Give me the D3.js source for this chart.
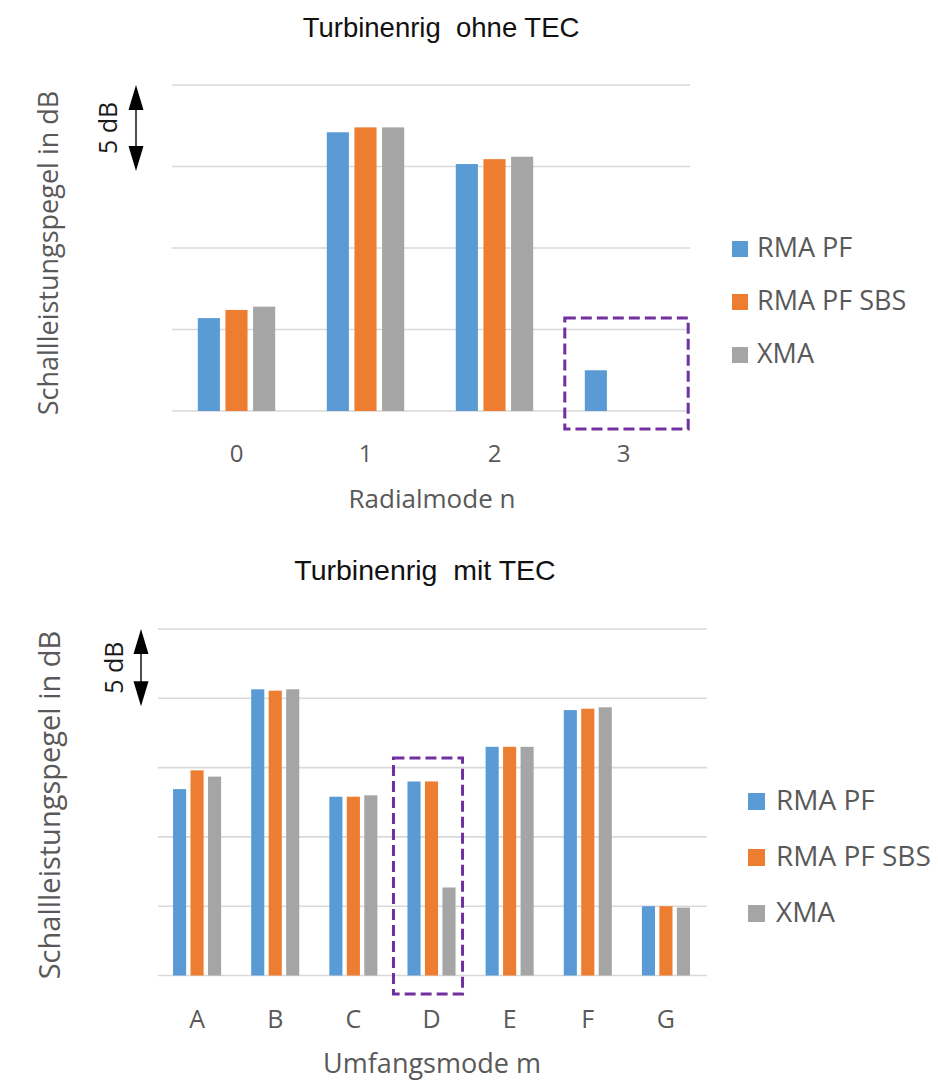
<!DOCTYPE html>
<html>
<head>
<meta charset="utf-8">
<script src="https://cdn.jsdelivr.net/npm/d3@7"></script>
<style>
  body { margin: 0; background: #fff; }
  svg { display: block; }
  text { white-space: pre; }
</style>
</head>
<body>
<svg id="chart" width="938" height="1082"></svg>
<script>
// Series shared by both panels
const seriesNames = ["RMA PF", "RMA PF SBS", "XMA"];
const seriesColors = ["#5B9BD5", "#ED7D31", "#A5A5A5"];

// Panel 1: turbine rig without TEC, by radial mode n (sound power level, dB, relative)
const radialModes = ["0", "1", "2", "3"];
const radialRmaPF = [5.7, 17.1, 15.15, 2.5];
const radialRmaPFSBS = [6.2, 17.4, 15.45, null];
const radialXMA = [6.4, 17.4, 15.6, null];
const radialGrid = [0, 5, 10, 15, 20];

// Panel 2: turbine rig with TEC, by circumferential mode m
const circModes = ["A", "B", "C", "D", "E", "F", "G"];
const circRmaPF = [13.45, 20.65, 12.9, 14.0, 16.5, 19.15, 5.0];
const circRmaPFSBS = [14.8, 20.55, 12.9, 14.0, 16.5, 19.25, 5.0];
const circXMA = [14.35, 20.65, 13.0, 6.35, 16.5, 19.35, 4.9];
const circGrid = [0, 5, 10, 15, 20, 25];

const svg = d3.select("#chart");
const textColor = "#595959";
const sansFont = "'Open Sans', 'Noto Sans', sans-serif";
const titleFont = "'Liberation Sans', Arial, sans-serif";

function drawPanel(p) {
  const g = svg.append("g");
  const x = d3.scaleBand().domain(p.categories).range(p.xRange)
    .paddingInner(p.padInner).paddingOuter(p.padInner / 2);
  const xs = d3.scaleBand().domain(seriesNames).range([0, x.bandwidth()]).paddingInner(p.barPad);
  const y = d3.scaleLinear().domain([0, d3.max(p.grid)]).range(p.yRange);

  // horizontal gridlines
  g.append("g").selectAll("line").data(p.grid).join("line")
    .attr("x1", p.xRange[0]).attr("x2", p.xRange[1] + 2)
    .attr("y1", d => y(d)).attr("y2", d => y(d))
    .attr("stroke", "#D9D9D9").attr("stroke-width", 1.6);

  // bars
  const rows = p.categories.map((c, i) => ({
    cat: c,
    vals: p.series.map((s, k) => ({ name: seriesNames[k], color: seriesColors[k], v: s[i] }))
  }));
  g.append("g").selectAll("g").data(rows).join("g")
    .attr("transform", d => `translate(${x(d.cat)},0)`)
    .selectAll("rect").data(d => d.vals.filter(v => v.v != null)).join("rect")
    .attr("x", d => xs(d.name)).attr("width", xs.bandwidth())
    .attr("y", d => y(d.v)).attr("height", d => y(0) - y(d.v))
    .attr("fill", d => d.color);

  // category labels
  const xAxis = d3.axisBottom(x).tickSize(0).tickPadding(0);
  const ax = g.append("g").attr("transform", `translate(0,${p.tickBaseline})`).call(xAxis);
  ax.select(".domain").remove();
  ax.selectAll("text").attr("dy", 0).attr("y", 0)
    .attr("font-family", sansFont).attr("font-size", p.tickSize).attr("fill", textColor);

  // axis title
  g.append("text").attr("x", p.xTitleX).attr("y", p.xTitleY).attr("text-anchor", "middle")
    .attr("font-family", sansFont).attr("font-size", p.xTitleSize).attr("fill", textColor)
    .text(p.xTitle);

  // chart title
  g.append("text").attr("x", p.titleX).attr("y", p.titleY).attr("text-anchor", "middle")
    .attr("font-family", titleFont).attr("font-size", p.titleSize).attr("fill", "#111")
    .text(p.title);

  // vertical axis title
  g.append("text").attr("transform", `translate(${p.yTitleX},${p.yTitleY}) rotate(-90)`)
    .attr("text-anchor", "middle").attr("dominant-baseline", "central")
    .attr("font-family", sansFont).attr("font-size", p.yTitleSize).attr("fill", textColor)
    .text("Schallleistungspegel in dB");

  // 5 dB scale arrow
  const top = d3.max(p.grid);
  const yA = y(top), yB = y(top - 5) + p.arrowExt;
  const hw = 7.5, hh = 25;
  g.append("line").attr("x1", p.arrowX).attr("x2", p.arrowX)
    .attr("y1", yA + hh - 2).attr("y2", yB - hh + 2)
    .attr("stroke", "#222").attr("stroke-width", 1.6);
  g.append("path").attr("fill", "#000")
    .attr("d", `M${p.arrowX},${yA} L${p.arrowX + hw},${yA + hh} L${p.arrowX - hw},${yA + hh} Z`);
  g.append("path").attr("fill", "#000")
    .attr("d", `M${p.arrowX},${yB} L${p.arrowX + hw},${yB - hh} L${p.arrowX - hw},${yB - hh} Z`);
  g.append("text").attr("transform", `translate(${p.dbX},${(yA + yB) / 2 + p.dbShift}) rotate(-90)`)
    .attr("text-anchor", "middle").attr("dominant-baseline", "central")
    .attr("font-family", sansFont).attr("font-size", p.dbSize).attr("fill", "#1a1a1a")
    .text("5 dB");

  // highlight box around the category of interest
  const hb = p.highlight;
  const hx0 = x(hb.cat) + hb.padLeft, hx1 = x(hb.cat) + x.bandwidth() + hb.padRight;
  g.append("rect").attr("x", hx0).attr("y", y(hb.top))
    .attr("width", hx1 - hx0).attr("height", y(hb.bottom) - y(hb.top))
    .attr("fill", "none").attr("stroke", "#7030A0").attr("stroke-width", 3)
    .attr("stroke-dasharray", "11,5");

  // legend
  const lg = g.append("g").selectAll("g").data(seriesNames).join("g")
    .attr("transform", (d, i) => `translate(${p.legendX},${p.legendY + i * p.legendStep})`);
  lg.append("rect").attr("x", 0).attr("y", -p.legendBox).attr("width", p.legendBox).attr("height", p.legendBox)
    .attr("fill", (d, i) => seriesColors[i]);
  lg.append("text").attr("x", p.legendTextDx).attr("y", 0)
    .attr("font-family", sansFont).attr("font-size", p.legendSize).attr("fill", textColor)
    .text(d => d);
}

drawPanel({
  categories: radialModes,
  series: [radialRmaPF, radialRmaPFSBS, radialXMA],
  grid: radialGrid,
  xRange: [172, 688], yRange: [411, 85],
  padInner: 0.4, barPad: 0.2,
  tickBaseline: 462, tickSize: 24,
  xTitle: "Radialmode n", xTitleX: 432, xTitleY: 508, xTitleSize: 26,
  title: "Turbinenrig  ohne TEC", titleX: 441, titleY: 37, titleSize: 27.5,
  yTitleX: 47, yTitleY: 253, yTitleSize: 27,
  arrowX: 136, arrowExt: 4.5, dbX: 107, dbShift: 0, dbSize: 25,
  highlight: { cat: "3", padLeft: -20, padRight: 26, top: 5.7, bottom: -1.1 },
  legendX: 732, legendY: 257, legendStep: 53, legendBox: 16, legendTextDx: 25, legendSize: 27
});

drawPanel({
  categories: circModes,
  series: [circRmaPF, circRmaPFSBS, circXMA],
  grid: circGrid,
  xRange: [158, 705], yRange: [975.5, 629],
  padInner: 0.385, barPad: 0.25,
  tickBaseline: 1028, tickSize: 25,
  xTitle: "Umfangsmode m", xTitleX: 432, xTitleY: 1073, xTitleSize: 27,
  title: "Turbinenrig  mit TEC", titleX: 425, titleY: 580, titleSize: 28.5,
  yTitleX: 48, yTitleY: 805, yTitleSize: 29,
  arrowX: 141, arrowExt: 8, dbX: 113, dbShift: 0, dbSize: 25,
  highlight: { cat: "D", padLeft: -14, padRight: 7, top: 15.7, bottom: -1.33 },
  legendX: 748, legendY: 810, legendStep: 56, legendBox: 17, legendTextDx: 28, legendSize: 28
});
</script>
</body>
</html>
